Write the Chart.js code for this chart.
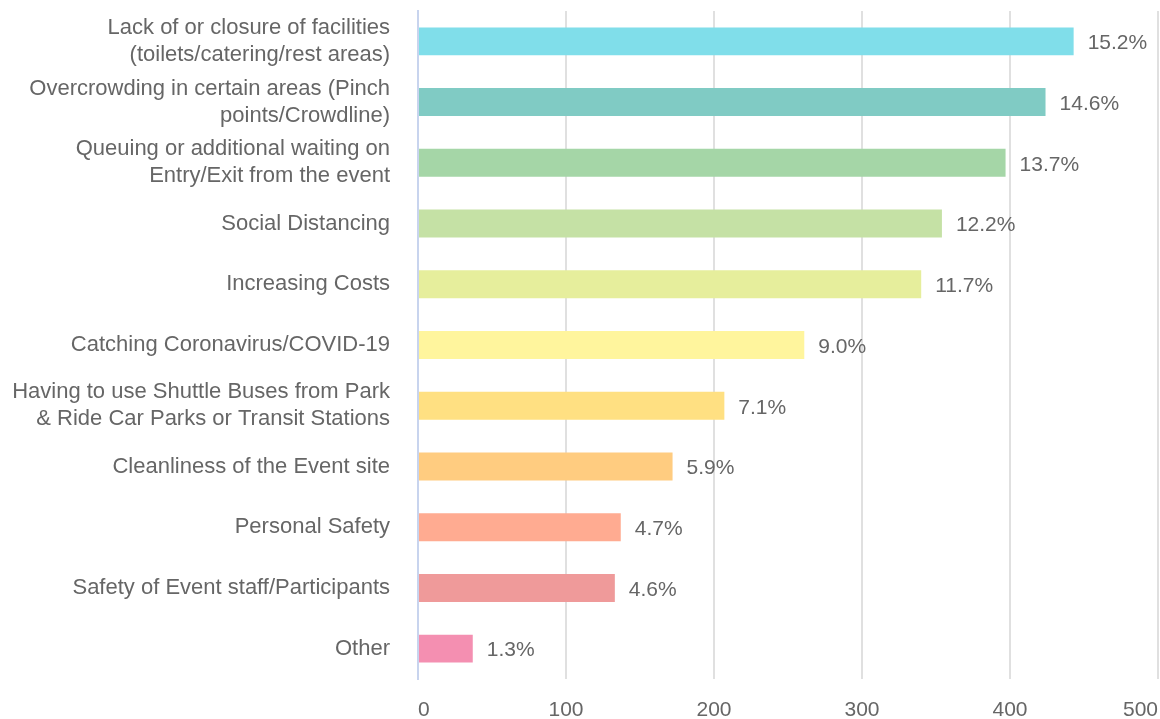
<!DOCTYPE html>
<html>
<head>
<meta charset="utf-8">
<script src="https://cdn.jsdelivr.net/npm/chart.js@4/dist/chart.umd.min.js"></script>
<style>
  html, body { margin: 0; padding: 0; background: #fff; overflow: hidden; }
  #wrap { width: 1200px; height: 719px; }
</style>
</head>
<body>
<div id="wrap"><canvas id="chart"></canvas></div>
<script>
const categories = [
  ["Lack of or closure of facilities", "(toilets/catering/rest areas)"],
  ["Overcrowding in certain areas (Pinch", "points/Crowdline)"],
  ["Queuing or additional waiting on", "Entry/Exit from the event"],
  "Social Distancing",
  "Increasing Costs",
  "Catching Coronavirus/COVID-19",
  ["Having to use Shuttle Buses from Park", "& Ride Car Parks or Transit Stations"],
  "Cleanliness of the Event site",
  "Personal Safety",
  "Safety of Event staff/Participants",
  "Other"
];
const counts = [443, 424, 397, 354, 340, 261, 207, 172, 137, 133, 37];
const percentLabels = ["15.2%", "14.6%", "13.7%", "12.2%", "11.7%", "9.0%", "7.1%", "5.9%", "4.7%", "4.6%", "1.3%"];
const barColors = ["#80deea", "#80cbc4", "#a5d6a7", "#c5e1a5", "#e6ee9c", "#fff59d",
  "#ffe082", "#ffcc80", "#ffab91", "#ef9a9a", "#f48fb1"];

const textColor = "#666666";
const fontFamily = "'Liberation Sans', Arial, sans-serif";

// percentage text at the end of each bar
const endLabels = {
  id: "endLabels",
  afterDatasetsDraw(chart) {
    const ctx = chart.ctx;
    const meta = chart.getDatasetMeta(0);
    ctx.save();
    ctx.font = "21px " + fontFamily;
    ctx.fillStyle = textColor;
    ctx.textBaseline = "middle";
    ctx.textAlign = "left";
    meta.data.forEach((bar, i) => {
      ctx.fillText(percentLabels[i], bar.x + 14, bar.y + 2);
    });
    ctx.restore();
  }
};

new Chart(document.getElementById("chart"), {
  type: "bar",
  data: {
    labels: categories,
    datasets: [{
      data: counts,
      backgroundColor: barColors,
      borderWidth: 0,
      categoryPercentage: 1,
      barPercentage: 0.46
    }]
  },
  options: {
    indexAxis: "y",
    responsive: true,
    maintainAspectRatio: false,
    animation: false,
    layout: { padding: { top: 11, left: 0, right: 42, bottom: 0 } },
    plugins: {
      legend: { display: false },
      tooltip: { enabled: false }
    },
    scales: {
      x: {
        min: 0,
        max: 500,
        ticks: {
          stepSize: 100,
          color: textColor,
          font: { family: fontFamily, size: 21 },
          padding: 19,
          align: "inner"
        },
        grid: {
          color: ctx => ctx.tick && ctx.tick.value === 0 ? "rgba(0,0,0,0)" : "#e0e0e0",
          lineWidth: 2,
          drawTicks: false
        },
        border: { display: false },
        afterFit: s => {
          s.height = 40;
          s.paddingLeft = 0;
          s.paddingRight = 0;
        }
      },
      y: {
        ticks: {
          color: textColor,
          font: { family: fontFamily, size: 22, lineHeight: 1.23 },
          padding: 28
        },
        grid: { display: false, drawTicks: false },
        border: { display: true, color: "#c8d4ee", width: 2 },
        afterFit: s => {
          s.width = 418;
          s.paddingTop = 0;
          s.paddingBottom = 0;
        }
      }
    }
  },
  plugins: [endLabels]
});
</script>
</body>
</html>
